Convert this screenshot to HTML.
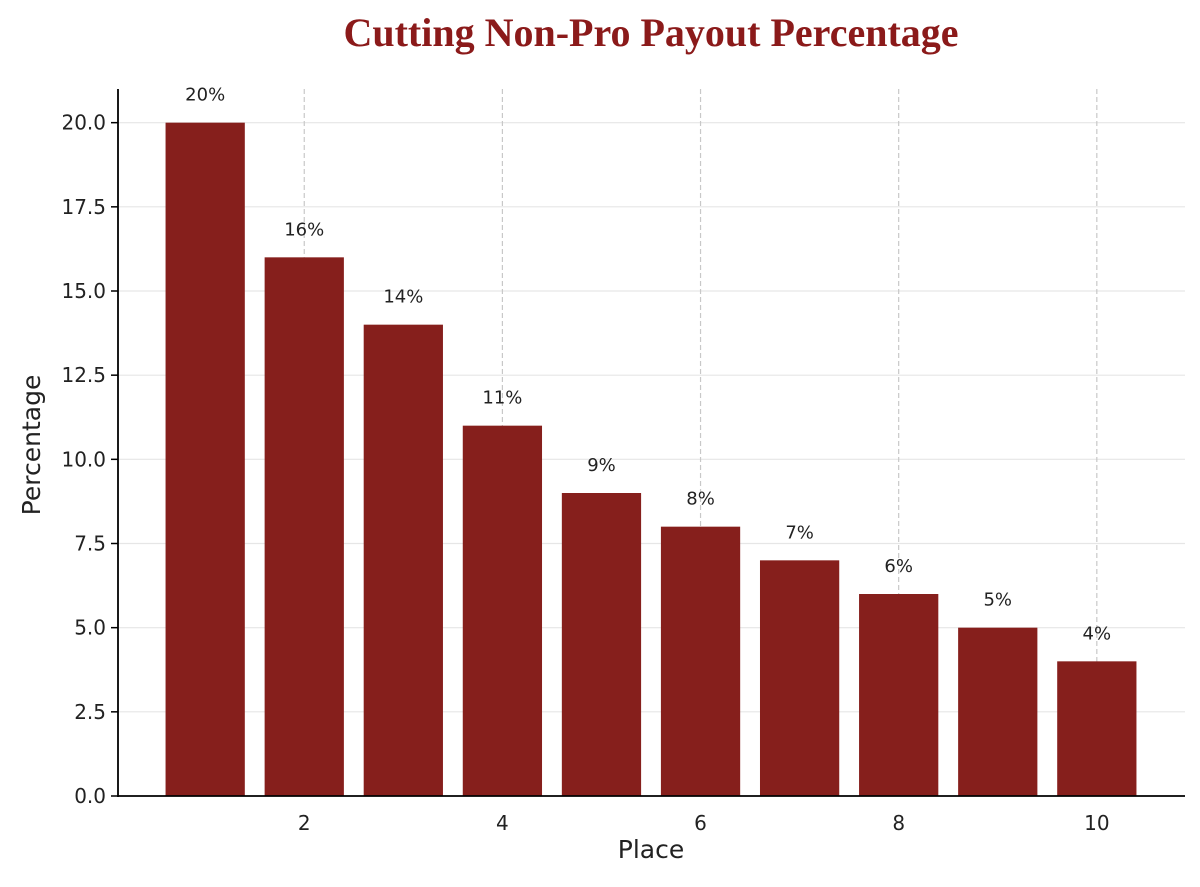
<!DOCTYPE html>
<html><head><meta charset="utf-8"><style>
body{margin:0;background:#fff;width:1200px;height:882px;overflow:hidden}
svg text{font-family:"DejaVu Sans","Liberation Sans",sans-serif}
</style></head><body>
<svg id="c" width="1200" height="882">
<text x="651" y="46" text-anchor="middle" fill="#8B1A1A" font-size="40" font-weight="bold" style="font-family:'Liberation Serif',serif">Cutting Non-Pro Payout Percentage</text>
<g id="grid"></g><g id="bars"></g><g id="axes"></g>
<text x="651" y="858" text-anchor="middle" font-size="25" fill="#222">Place</text>
<text transform="translate(40,445) rotate(-90)" text-anchor="middle" font-size="25" fill="#222">Percentage</text>
</svg>
<script>
const places=[1,2,3,4,5,6,7,8,9,10];
const values=[20,16,14,11,9,8,7,6,5,4];
const yTicks=[0,2.5,5,7.5,10,12.5,15,17.5,20];
const xTicks=[2,4,6,8,10];
const NS="http://www.w3.org/2000/svg";
const X0=118,X1=1185,Y0=796,Y1=89,xmin=0.12,xmax=10.89,ymin=0,ymax=21.0;
const sx=v=>X0+(v-xmin)/(xmax-xmin)*(X1-X0);
const sy=v=>Y0-(v-ymin)/(ymax-ymin)*(Y0-Y1);
function mk(t,a,p){const e=document.createElementNS(NS,t);for(const k in a)e.setAttribute(k,a[k]);p.appendChild(e);return e;}
const grid=document.getElementById('grid'),bars=document.getElementById('bars'),axes=document.getElementById('axes');
yTicks.forEach(t=>{
 const l=mk('line',{x1:X0,x2:X1,y1:sy(t),y2:sy(t),stroke:'#e6e6e6','stroke-width':1.2},grid);
 
 
 const tk=mk('line',{x1:X0-7,x2:X0,y1:sy(t),y2:sy(t),stroke:'#000','stroke-width':1.5},axes);
 
 
 const tx=mk('text',{x:X0-12,y:sy(t)+7,'text-anchor':'end','font-size':20,fill:'#222'},axes);
 tx.textContent=t.toFixed(1);
 
 
});
xTicks.forEach(t=>{
 const l=mk('line',{x1:sx(t),x2:sx(t),y1:Y1,y2:Y0,stroke:'#c8c8c8','stroke-width':1.2,'stroke-dasharray':'5,3'},grid);
 
 
 const tx=mk('text',{x:sx(t),y:Y0+34,'text-anchor':'middle','font-size':20,fill:'#222'},axes);
 tx.textContent=t;
 
 
});
places.forEach((p,i)=>{
 const v=values[i];
 const r=mk('rect',{x:sx(p-0.4),y:sy(v),width:sx(p+0.4)-sx(p-0.4),height:sy(0)-sy(v),fill:'#861F1C'},bars);
 
 
 const t=mk('text',{x:sx(p),y:sy(v)-22,'text-anchor':'middle','font-size':18,fill:'#222'},bars);
 t.textContent=v+'%';
 
 
});
const ys=mk('line',{x1:X0,x2:X0,y1:Y1,y2:Y0+1,stroke:'#000','stroke-width':1.8},axes);


const xs=mk('line',{x1:X0,x2:X1,y1:Y0,y2:Y0,stroke:'#000','stroke-width':1.8},axes);


</script>
</body></html>
